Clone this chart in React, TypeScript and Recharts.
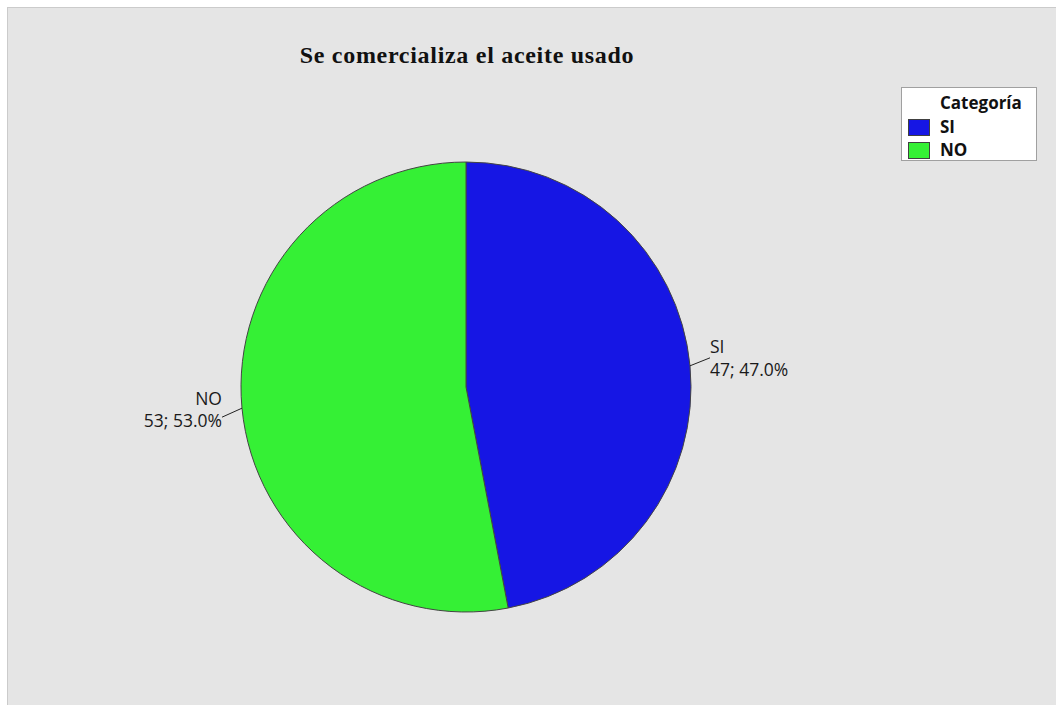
import React from "react"
import { PieChart, Pie, Cell, Legend } from "recharts"

const categorias = ["SI", "NO"]
const conteos = [47, 53]
const colores = ["#1616E4", "#35F035"]

const data = categorias.map((nombre, i) => ({ name: nombre, value: conteos[i] }))
const total = conteos.reduce((a, b) => a + b, 0)

const RADIAN = Math.PI / 180
const font = "'Open Sans', 'Noto Sans', sans-serif"

const renderLabel = (props: any) => {
    const { cx, cy, midAngle, outerRadius, name, value } = props
    const cos = Math.cos(-midAngle * RADIAN)
    const sin = Math.sin(-midAngle * RADIAN)
    const sx = cx + outerRadius * cos
    const sy = cy + outerRadius * sin
    const right = cos >= 0
    const ex = sx + (right ? 20 : -20)
    const ey = sy + (right ? -8 : 9)
    const pct = ((value / total) * 100).toFixed(1)
    // SI text straddles the line end, NO text sits mostly above it
    const y1 = right ? ey - 12 : ey - 19
    const y2 = right ? ey + 11 : ey + 3
    return (
        <g>
            <line x1={sx} y1={sy} x2={ex} y2={ey} stroke="#222" strokeWidth={1} />
            <text x={ex} y={y1} textAnchor={right ? "start" : "end"} dominantBaseline="central"
                fontFamily={font} fontSize={17.5} fill="#1a1a1a">{name}</text>
            <text x={ex} y={y2} textAnchor={right ? "start" : "end"} dominantBaseline="central"
                fontFamily={font} fontSize={17.5} fill="#1a1a1a">{`${value}; ${pct}%`}</text>
        </g>
    )
}

const renderLegend = () => (
    <div style={{
        width: 136, height: 74, background: "#fff", border: "1px solid #a0a0a0",
        fontFamily: font, fontSize: 17, color: "#111", boxSizing: "border-box", position: "relative",
    }}>
        <div style={{ position: "absolute", left: 38, top: 3, fontWeight: 700, lineHeight: "24px" }}>Categoría</div>
        {categorias.map((nombre, i) => (
            <div key={nombre} style={{ position: "absolute", left: 6, top: 30 + i * 23, display: "flex", alignItems: "center" }}>
                <div style={{ width: 22, height: 17, background: colores[i], border: "1px solid #404040", boxSizing: "border-box" }} />
                <span style={{ marginLeft: 10, fontWeight: 700, lineHeight: "18px" }}>{nombre}</span>
            </div>
        ))}
    </div>
)

export default function App() {
    return (
        <div style={{
            position: "absolute", left: 7, top: 7, width: 1049, height: 698,
            background: "#e5e5e5", borderLeft: "1px solid #cbcbcb", borderTop: "1px solid #cbcbcb",
            boxSizing: "border-box", overflow: "hidden",
        }}>
            <div style={{
                position: "absolute", left: 0, width: 918, top: 34, textAlign: "center", letterSpacing: 0.7,
                fontFamily: "'Liberation Serif', 'Times New Roman', serif", fontWeight: 700, fontSize: 24, color: "#111",
            }}>
                Se comercializa el aceite usado
            </div>
            <PieChart width={1048} height={697} style={{ position: "absolute", left: 0, top: 0 }}>
                <Pie
                    data={data}
                    dataKey="value"
                    nameKey="name"
                    cx={453}
                    cy={374}
                    outerRadius={225}
                    startAngle={90}
                    endAngle={-270}
                    stroke="#444"
                    strokeWidth={1}
                    label={renderLabel}
                    labelLine={false}
                    isAnimationActive={false}
                >
                    {data.map((entry, index) => (
                        <Cell key={`cell-${index}`} fill={colores[index]} />
                    ))}
                </Pie>
                <Legend
                    content={renderLegend}
                    wrapperStyle={{ position: "absolute", left: 893, top: 79, width: 136, height: 74 }}
                />
            </PieChart>
        </div>
    )
}
